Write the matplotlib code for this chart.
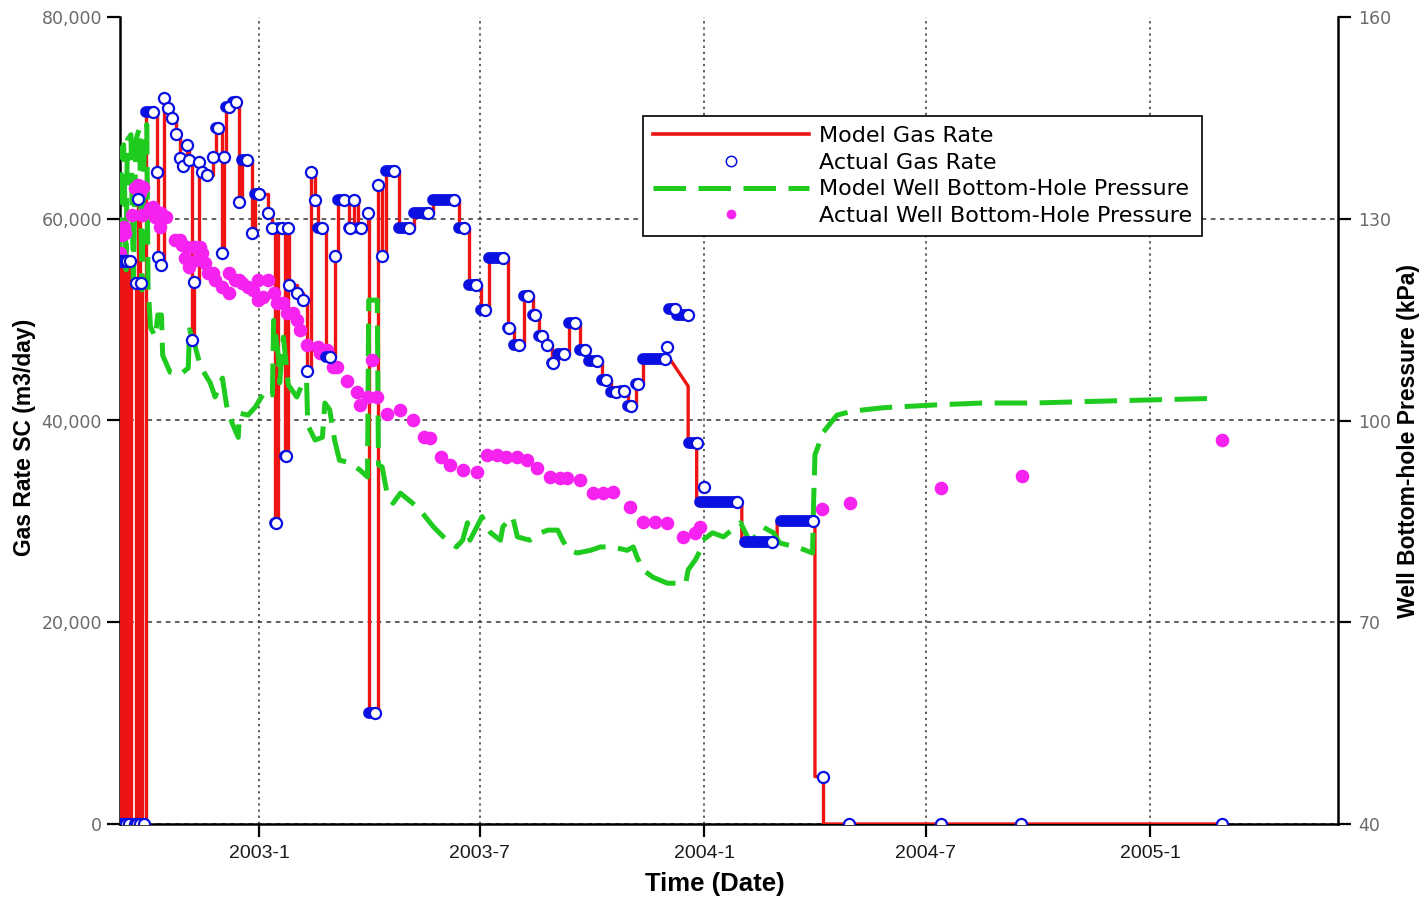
import matplotlib
matplotlib.use('Agg')
import matplotlib.pyplot as plt
import matplotlib.ticker as mticker
import pandas as pd
from matplotlib.lines import Line2D

# Actual gas rate (m3/day): each record is a period held at one rate
gas_start = ['2002-09-09', '2002-09-10', '2002-09-11', '2002-09-12', '2002-09-13', '2002-09-14',
             '2002-09-15', '2002-09-16', '2002-09-17', '2002-09-18', '2002-09-22', '2002-09-23',
             '2002-09-24', '2002-09-25', '2002-09-26', '2002-09-27', '2002-09-30', '2002-10-09',
             '2002-10-10', '2002-10-13', '2002-10-15', '2002-10-18', '2002-10-22', '2002-10-25',
             '2002-10-28', '2002-10-31', '2002-11-03', '2002-11-05', '2002-11-07', '2002-11-09',
             '2002-11-13', '2002-11-15', '2002-11-19', '2002-11-24', '2002-11-27', '2002-12-02',
             '2002-12-03', '2002-12-05', '2002-12-11', '2002-12-16', '2002-12-18', '2002-12-26',
             '2002-12-29', '2003-01-08', '2003-01-12', '2003-01-14', '2003-01-17', '2003-01-22',
             '2003-01-25', '2003-01-26', '2003-02-01', '2003-02-06', '2003-02-09', '2003-02-13',
             '2003-02-16', '2003-02-18', '2003-02-25', '2003-03-04', '2003-03-07', '2003-03-16',
             '2003-03-20', '2003-03-23', '2003-03-31', '2003-04-01', '2003-04-09', '2003-04-12',
             '2003-04-15', '2003-04-26', '2003-05-08', '2003-05-24', '2003-06-14', '2003-06-22',
             '2003-07-02', '2003-07-09', '2003-07-24', '2003-07-29', '2003-08-06', '2003-08-14',
             '2003-08-19', '2003-08-25', '2003-08-29', '2003-09-03', '2003-09-12', '2003-09-21',
             '2003-09-29', '2003-10-09', '2003-10-17', '2003-10-25', '2003-10-31', '2003-11-06',
             '2003-11-12', '2003-12-02', '2003-12-03', '2003-12-10', '2003-12-20', '2003-12-29',
             '2004-01-01', '2004-02-04', '2004-03-04', '2004-04-08', '2004-04-29', '2004-07-13',
             '2004-09-17', '2005-03-01']
gas_end = ['2002-09-09', '2002-09-10', '2002-09-11', '2002-09-12', '2002-09-13', '2002-09-14',
           '2002-09-15', '2002-09-16', '2002-09-17', '2002-09-21', '2002-09-22', '2002-09-23',
           '2002-09-24', '2002-09-25', '2002-09-26', '2002-09-29', '2002-10-06', '2002-10-09',
           '2002-10-10', '2002-10-13', '2002-10-15', '2002-10-18', '2002-10-22', '2002-10-25',
           '2002-10-28', '2002-10-31', '2002-11-03', '2002-11-05', '2002-11-07', '2002-11-09',
           '2002-11-13', '2002-11-15', '2002-11-19', '2002-11-24', '2002-11-28', '2002-12-02',
           '2002-12-03', '2002-12-07', '2002-12-13', '2002-12-16', '2002-12-22', '2002-12-26',
           '2003-01-01', '2003-01-08', '2003-01-12', '2003-01-15', '2003-01-20', '2003-01-23',
           '2003-01-25', '2003-01-26', '2003-02-01', '2003-02-06', '2003-02-09', '2003-02-13',
           '2003-02-16', '2003-02-22', '2003-02-28', '2003-03-04', '2003-03-12', '2003-03-17',
           '2003-03-20', '2003-03-26', '2003-03-31', '2003-04-06', '2003-04-09', '2003-04-12',
           '2003-04-22', '2003-05-04', '2003-05-20', '2003-06-10', '2003-06-18', '2003-06-28',
           '2003-07-05', '2003-07-20', '2003-07-25', '2003-08-02', '2003-08-10', '2003-08-15',
           '2003-08-21', '2003-08-25', '2003-08-30', '2003-09-08', '2003-09-17', '2003-09-25',
           '2003-10-05', '2003-10-13', '2003-10-21', '2003-10-27', '2003-11-02', '2003-11-08',
           '2003-11-30', '2003-12-02', '2003-12-08', '2003-12-19', '2003-12-26', '2004-01-28',
           '2004-01-01', '2004-02-26', '2004-03-30', '2004-04-08', '2004-04-29', '2004-07-13',
           '2004-09-17', '2005-03-01']
gas_rate = [55800, 0, 55800, 0, 55800, 0,
            55800, 0, 55800, 0, 53600, 0,
            62000, 0, 53600, 0, 70600, 64600,
            56200, 55400, 72000, 71000, 70000, 68400,
            66000, 65200, 67300, 65800, 48000, 53700,
            65600, 64600, 64300, 66100, 69000, 56600,
            66100, 71100, 71600, 61700, 65800, 58600,
            62500, 60600, 59100, 29800, 59100, 36500,
            59100, 53400, 52600, 51900, 44900, 64600,
            61900, 59100, 46300, 56300, 61900, 59100,
            61900, 59100, 60600, 11000, 63300, 56300,
            64700, 59100, 60600, 61900, 59100, 53400,
            51000, 56100, 49200, 47500, 52300, 50500,
            48400, 47500, 45700, 46600, 49700, 47000,
            45900, 44000, 42800, 42900, 41400, 43600,
            46100, 47300, 51100, 50500, 37800, 31900,
            33400, 28000, 30000, 4700, 0, 0,
            0, 0]

# Model gas rate follows the actual periods up to this date, then this tail
model_follow_until = '2003-11-12'
model_tail_dates = ['2003-11-12', '2003-12-04', '2003-12-19', '2003-12-19', '2003-12-26', '2003-12-26',
                    '2004-02-01', '2004-02-01', '2004-03-01', '2004-03-01', '2004-04-01', '2004-04-01',
                    '2004-04-08', '2004-04-08', '2005-03-01']
model_tail_rates = [46100, 46100, 43400, 37800, 37800, 31900,
                    31900, 28000, 28000, 30000, 30000, 4700,
                    4700, 0, 0]

# Model well bottom-hole pressure (kPa)
bhp_model_dates = ['2002-09-09', '2002-09-10', '2002-09-12', '2002-09-14', '2002-09-15', '2002-09-18',
                   '2002-09-20', '2002-09-22', '2002-09-25', '2002-09-27', '2002-09-29', '2002-10-01',
                   '2002-10-02', '2002-10-04', '2002-10-08', '2002-10-10', '2002-10-13', '2002-10-14',
                   '2002-10-20', '2002-10-28', '2002-11-04', '2002-11-05', '2002-11-09', '2002-11-14',
                   '2002-11-22', '2002-11-26', '2002-12-02', '2002-12-06', '2002-12-10', '2002-12-15',
                   '2002-12-16', '2002-12-23', '2002-12-29', '2003-01-03', '2003-01-08', '2003-01-12',
                   '2003-01-13', '2003-01-17', '2003-01-18', '2003-01-21', '2003-01-25', '2003-02-01',
                   '2003-02-06', '2003-02-09', '2003-02-10', '2003-02-16', '2003-02-22', '2003-02-24',
                   '2003-02-28', '2003-03-04', '2003-03-08', '2003-03-17', '2003-03-25', '2003-03-31',
                   '2003-04-01', '2003-04-08', '2003-04-09', '2003-04-12', '2003-04-16', '2003-04-21',
                   '2003-04-27', '2003-05-07', '2003-05-13', '2003-05-24', '2003-06-04', '2003-06-12',
                   '2003-06-17', '2003-06-21', '2003-06-23', '2003-07-03', '2003-07-07', '2003-07-10',
                   '2003-07-18', '2003-07-20', '2003-07-28', '2003-08-01', '2003-08-11', '2003-08-20',
                   '2003-08-26', '2003-09-03', '2003-09-07', '2003-09-12', '2003-09-19', '2003-09-30',
                   '2003-10-08', '2003-10-18', '2003-10-30', '2003-11-04', '2003-11-07', '2003-11-12',
                   '2003-11-20', '2003-12-02', '2003-12-17', '2003-12-19', '2003-12-25', '2003-12-29',
                   '2003-12-31', '2004-01-08', '2004-01-17', '2004-01-31', '2004-02-08', '2004-02-18',
                   '2004-02-27', '2004-03-03', '2004-03-20', '2004-03-30', '2004-03-31', '2004-04-01',
                   '2004-04-08', '2004-04-19', '2004-05-02', '2004-05-27', '2004-07-07', '2004-08-16',
                   '2004-09-27', '2004-11-07', '2004-12-18', '2005-02-26']
bhp_model = [125.4, 140.2, 141.0, 122.4, 141.7, 142.5,
             120.9, 141.7, 143.5, 119.4, 142.5, 144.0,
             120.1, 113.9, 112.4, 115.7, 115.7, 109.7,
             107.2, 106.8, 107.8, 113.5, 111.5, 108.0,
             105.6, 103.5, 106.3, 101.6, 99.6, 97.5,
             101.1, 100.8, 102.0, 103.5, 104.5, 103.8,
             114.9, 109.4, 105.6, 112.4, 105.3, 103.5,
             105.6, 106.0, 99.3, 97.1, 97.5, 102.6,
             101.6, 97.1, 94.1, 93.7, 92.6, 91.6,
             117.9, 117.9, 93.4, 93.1, 89.2, 87.7,
             89.2, 87.7, 86.7, 84.2, 82.2, 81.2,
             82.2, 84.8, 82.2, 85.7, 84.2, 83.3,
             82.2, 84.2, 85.7, 82.7, 82.2, 83.3,
             83.7, 83.7, 82.2, 80.7, 80.3, 80.7,
             81.2, 81.2, 80.7, 81.2, 79.7, 77.8,
             76.7, 75.8, 75.8, 77.8, 79.3, 80.7,
             82.2, 83.3, 82.7, 84.8, 81.8, 84.2,
             83.3, 81.8, 81.0, 80.3, 88.6, 94.9,
             98.3, 100.8, 101.4, 101.9, 102.3, 102.6,
             102.6, 102.8, 103.0, 103.3]

# Actual well bottom-hole pressure (kPa)
bhp_dates = ['2002-09-09', '2002-09-11', '2002-09-12', '2002-09-13', '2002-09-19', '2002-09-21',
             '2002-09-24', '2002-09-25', '2002-09-27', '2002-09-28', '2002-10-04', '2002-10-06',
             '2002-10-08', '2002-10-12', '2002-10-13', '2002-10-17', '2002-10-24', '2002-10-28',
             '2002-10-30', '2002-11-01', '2002-11-03', '2002-11-05', '2002-11-09', '2002-11-11',
             '2002-11-14', '2002-11-15', '2002-11-18', '2002-11-20', '2002-11-24', '2002-11-26',
             '2002-12-02', '2002-12-07', '2002-12-07', '2002-12-12', '2002-12-16', '2002-12-18',
             '2002-12-23', '2002-12-27', '2002-12-31', '2002-12-31', '2003-01-04', '2003-01-08',
             '2003-01-13', '2003-01-16', '2003-01-21', '2003-01-24', '2003-01-29', '2003-02-01',
             '2003-02-04', '2003-02-09', '2003-02-18', '2003-02-20', '2003-02-26', '2003-03-03',
             '2003-03-06', '2003-03-14', '2003-03-22', '2003-03-25', '2003-03-31', '2003-04-04',
             '2003-04-08', '2003-04-16', '2003-04-27', '2003-05-07', '2003-05-16', '2003-05-21',
             '2003-05-30', '2003-06-07', '2003-06-17', '2003-06-29', '2003-07-07', '2003-07-15',
             '2003-07-23', '2003-08-01', '2003-08-09', '2003-08-17', '2003-08-28', '2003-09-05',
             '2003-09-11', '2003-09-21', '2003-10-02', '2003-10-10', '2003-10-18', '2003-11-01',
             '2003-11-12', '2003-11-22', '2003-12-02', '2003-12-15', '2003-12-25', '2003-12-29',
             '2004-04-07', '2004-04-30', '2004-07-13', '2004-09-18', '2005-03-01']
bhp_actual = [124.9, 127.6, 128.8, 127.9, 130.6, 134.6,
              135.0, 133.8, 130.6, 134.7, 131.6, 131.7,
              130.3, 128.8, 130.9, 130.3, 126.8, 126.8,
              126.1, 124.2, 125.8, 122.8, 125.8, 123.9,
              125.8, 124.9, 123.4, 121.9, 121.9, 120.9,
              119.9, 121.9, 119.0, 120.9, 120.9, 120.4,
              119.9, 119.4, 117.9, 120.9, 118.4, 120.9,
              119.0, 117.5, 117.5, 116.0, 116.0, 114.9,
              113.5, 111.2, 110.9, 110.0, 110.5, 108.0,
              108.0, 105.9, 104.2, 102.3, 103.5, 109.0,
              103.5, 101.0, 101.6, 100.1, 97.5, 97.4,
              94.6, 93.4, 92.6, 92.3, 94.9, 94.9,
              94.6, 94.6, 94.1, 92.9, 91.6, 91.4,
              91.4, 91.2, 89.2, 89.2, 89.4, 87.1,
              84.9, 84.9, 84.8, 82.7, 83.3, 84.2,
              86.8, 87.7, 90.0, 91.7, 97.1]

xtick_dates = ['2003-01-01', '2003-07-01', '2004-01-01', '2004-07-01', '2005-01-01']
xtick_labels = ['2003-1', '2003-7', '2004-1', '2004-7', '2005-1']
x_range = ['2002-09-09', '2005-06-04']

red = '#EE1414'
blue = '#0A10E0'
green = '#1FCB1F'
magenta = '#F522F0'
label_font = ['Liberation Sans', 'DejaVu Sans']

gas = pd.DataFrame({'start': pd.to_datetime(gas_start), 'end': pd.to_datetime(gas_end), 'rate': gas_rate})
model_steps = gas[gas['start'] <= pd.Timestamp(model_follow_until)]

fig = plt.figure(figsize=(14.23, 8.97), dpi=100)
ax = fig.add_axes([120 / 1423, 1 - 824 / 897, 1218 / 1423, 807 / 897])
ax2 = ax.twinx()   # pressure
ax3 = ax.twinx()   # actual gas rate on top

# Model gas rate
ax.plot(model_steps['start'], model_steps['rate'], drawstyle='steps-post', color=red, lw=2.4, zorder=3)
ax.plot(pd.to_datetime(model_tail_dates), model_tail_rates, color=red, lw=2.4, zorder=3)

# Pressures
ax2.plot(pd.to_datetime(bhp_model_dates), bhp_model, color=green, lw=3.6, dashes=(6.5, 2.5),
         solid_joinstyle='round', zorder=3)
ax2.plot(pd.to_datetime(bhp_dates), bhp_actual, 'o', color=magenta, ms=9.8, mew=0, zorder=4)

# Actual gas rate: held periods as thick bars, open circle at the end of each
for s, e, r in zip(gas['start'], gas['end'], gas['rate']):
    if e > s:
        ax3.plot([s, e], [r, r], color=blue, lw=8.5, solid_capstyle='round', zorder=3)
ax3.plot(gas['end'], gas['rate'], 'o', ms=8, mfc='white', mec=blue, mew=1.6, zorder=4)

xmin, xmax = pd.to_datetime(x_range)
for a in (ax, ax2, ax3):
    a.set_xlim(xmin, xmax)
ax.set_ylim(0, 80000)
ax3.set_ylim(0, 80000)
ax2.set_ylim(40, 160)

# Spines
for a in (ax, ax2, ax3):
    for sp in a.spines.values():
        sp.set_visible(False)
ax.spines['left'].set_visible(True)
ax.spines['bottom'].set_visible(True)
ax2.spines['right'].set_visible(True)
for sp in (ax.spines['left'], ax.spines['bottom'], ax2.spines['right']):
    sp.set_linewidth(1.8)
ax3.yaxis.set_visible(False)

# Ticks
ax.set_yticks([0, 20000, 40000, 60000, 80000])
ax.yaxis.set_major_formatter(mticker.StrMethodFormatter('{x:,.0f}'))
ax2.set_yticks([40, 70, 100, 130, 160])
ax.set_xticks(pd.to_datetime(xtick_dates))
ax.set_xticklabels(xtick_labels, family=label_font)
ax.tick_params(axis='y', direction='out', length=9.5, width=1.6, labelsize=12.5,
               labelcolor='#6a6a6a', pad=3.5)
ax2.tick_params(axis='y', direction='out', length=9, width=1.6, labelsize=12.5,
                labelcolor='#6a6a6a', pad=5.5)
ax.tick_params(axis='x', direction='out', length=9, width=1.6, labelsize=14,
               labelcolor='#1a1a1a', pad=6)

# Grid
ax.xaxis.grid(True, linestyle=(0, (1.5, 2.5)), color='#333333', lw=1.1)
ax.yaxis.grid(True, linestyle=(0, (3, 3)), color='#333333', lw=1.1)
ax.get_ygridlines()[-1].set_visible(False)
ax.set_axisbelow(True)

# Axis titles
fig.text(25 / 1423, 1 - 437 / 897, 'Gas Rate SC (m3/day)', rotation=90, ha='center', va='center',
         fontsize=16.5, fontweight='bold', family=label_font)
fig.text(1408 / 1423, 1 - 441 / 897, 'Well Bottom-hole Pressure (kPa)', rotation=90, ha='center',
         va='center', fontsize=16.5, fontweight='bold', family=label_font)
fig.text(715 / 1423, 1 - 884 / 897, 'Time (Date)', ha='center', va='center',
         fontsize=18.5, fontweight='bold', family=label_font)

# Legend
handles = [Line2D([], [], color=red, lw=2.6),
           Line2D([], [], ls='none', marker='o', ms=7.5, mfc='white', mec=blue, mew=1.1),
           Line2D([], [], color=green, lw=3.6, dashes=(6.5, 2.5)),
           Line2D([], [], ls='none', marker='o', ms=7, color=magenta, mew=0)]
labels = ['Model Gas Rate', 'Actual Gas Rate', 'Model Well Bottom-Hole Pressure',
          'Actual Well Bottom-Hole Pressure']
leg = ax3.legend(handles, labels, loc='upper left', bbox_to_anchor=(643 / 1423, 1 - 116 / 897),
                 bbox_transform=fig.transFigure, fontsize=16, frameon=True, fancybox=False,
                 framealpha=1, edgecolor='black', handlelength=7.0, handletextpad=0.45,
                 labelspacing=0.3, borderpad=0.45, borderaxespad=0, numpoints=1)
leg.get_frame().set_linewidth(1.2)
leg.set_zorder(10)

fig.savefig('out.png', dpi=100)
